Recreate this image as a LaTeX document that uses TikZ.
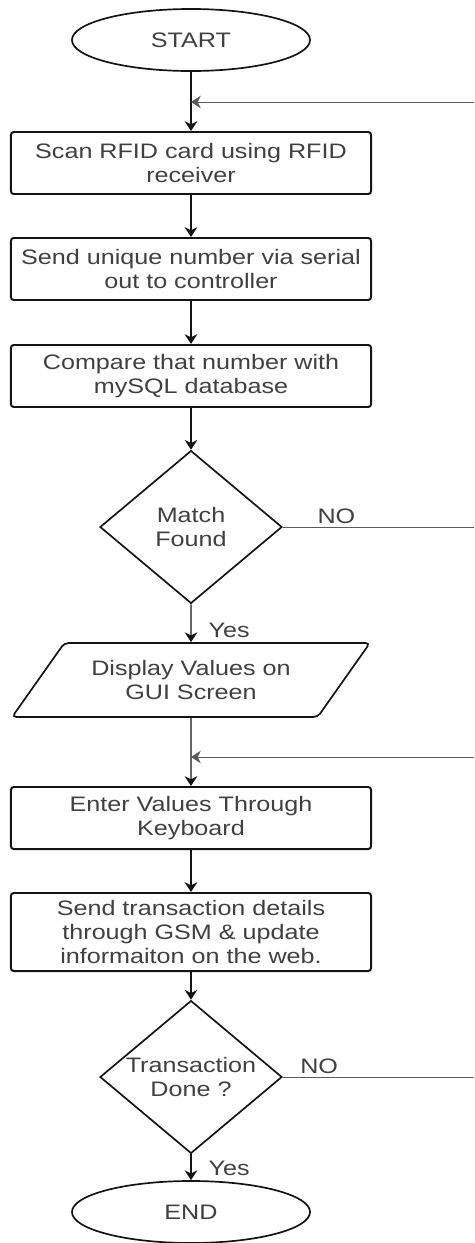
\documentclass[tikz,border=0pt]{standalone}
\usepackage{fontspec}
\setmainfont[FakeStretch=1.2]{Liberation Sans}
\usepackage{tikz}
\usetikzlibrary{arrows.meta,positioning,shapes.geometric,calc}
\definecolor{FlowText}{RGB}{ 64, 64, 64}
\definecolor{FlowLine}{RGB}{ 20, 20, 20}
\definecolor{FeedLine}{RGB}{ 90, 90, 90}

\tikzset{
  flowbox/.style={draw=FlowLine, line width=1.4pt, rounded corners=2pt,
    minimum width=9cm, minimum height=1.55cm, inner sep=0pt,
    align=center, text=FlowText},
  terminal/.style={ellipse, draw=FlowLine, line width=1.2pt,
    minimum width=5.95cm, minimum height=1.55cm, text=FlowText},
  decision/.style={diamond, draw=FlowLine, line width=1.2pt, aspect=1.19,
    minimum width=4.55cm, minimum height=3.82cm, inner sep=0pt,
    align=center, text=FlowText},
  iobox/.style={trapezium, trapezium left angle=43.5, trapezium right angle=136.5,
    trapezium stretches=true, draw=FlowLine, line width=1.2pt, rounded corners=3pt,
    minimum width=8.95cm, minimum height=1.85cm, inner sep=0pt,
    align=center, text=FlowText},
  flow/.style={draw=FlowLine, line width=1pt, -{Stealth[length=7pt,width=9pt]}},
  feedline/.style={draw=FeedLine, line width=0.7pt},
  branch/.style={text=FlowText, inner sep=2pt}
}

\begin{document}
\begin{tikzpicture}[x=0.025cm, y=-0.025cm, font=\fontsize{14.9}{16.8}\selectfont]
  \useasboundingbox (0,0) rectangle (474,1243);

  \node[terminal] (start)   at (191,40)   {START};
  \node[flowbox]  (scan)    at (191,163)  {Scan RFID card using RFID\\receiver};
  \node[flowbox]  (send)    at (191,269)  {Send unique number via serial\\out to controller};
  \node[flowbox]  (compare) at (191,376)  {Compare that number with\\mySQL database};
  \node[decision] (match)   at (191,527)  {Match\\Found};
  \node[iobox]    (display) at (191,680)  {Display Values on\\GUI Screen};
  \node[flowbox]  (enter)   at (191,818)  {Enter Values Through\\Keyboard};
  \node[flowbox, minimum height=1.95cm] (gsm) at (191,932)
    {Send transaction details\\through GSM \& update\\informaiton on the web.};
  \node[decision] (done)    at (191,1077) {Transaction\\Done ?};
  \node[terminal] (stop)    at (191,1212) {END};

  \coordinate (join1) at (191,102);
  \coordinate (back1) at (474,102);
  \coordinate (join2) at (191,757);
  \coordinate (back2) at (474,757);
  \coordinate (nomatch) at (474,527);
  \coordinate (notdone) at (474,1077);

  \draw[flow] (start) -- (scan);
  \draw[flow] (scan) -- (send);
  \draw[flow] (send) -- (compare);
  \draw[flow] (compare) -- (match);
  \draw[flow] (match) -- (display) node[branch, pos=0.7, anchor=west, xshift=10pt] {Yes};
  \draw[flow] (display) -- (enter);
  \draw[flow] (enter) -- (gsm);
  \draw[flow] (gsm) -- (done);
  \draw[flow] (done) -- (stop) node[branch, pos=0.55, anchor=west, xshift=10pt] {Yes};

  \draw[feedline, -{Stealth[length=7pt,width=9pt]}] (back1) -- (join1);
  \draw[feedline, -{Stealth[length=7pt,width=9pt]}] (back2) -- (join2);
  \draw[feedline] (match.east) -- (nomatch) node[branch, pos=0.28, above] {NO};
  \draw[feedline] (done.east) -- (notdone) node[branch, pos=0.19, above] {NO};
\end{tikzpicture}
\end{document}
